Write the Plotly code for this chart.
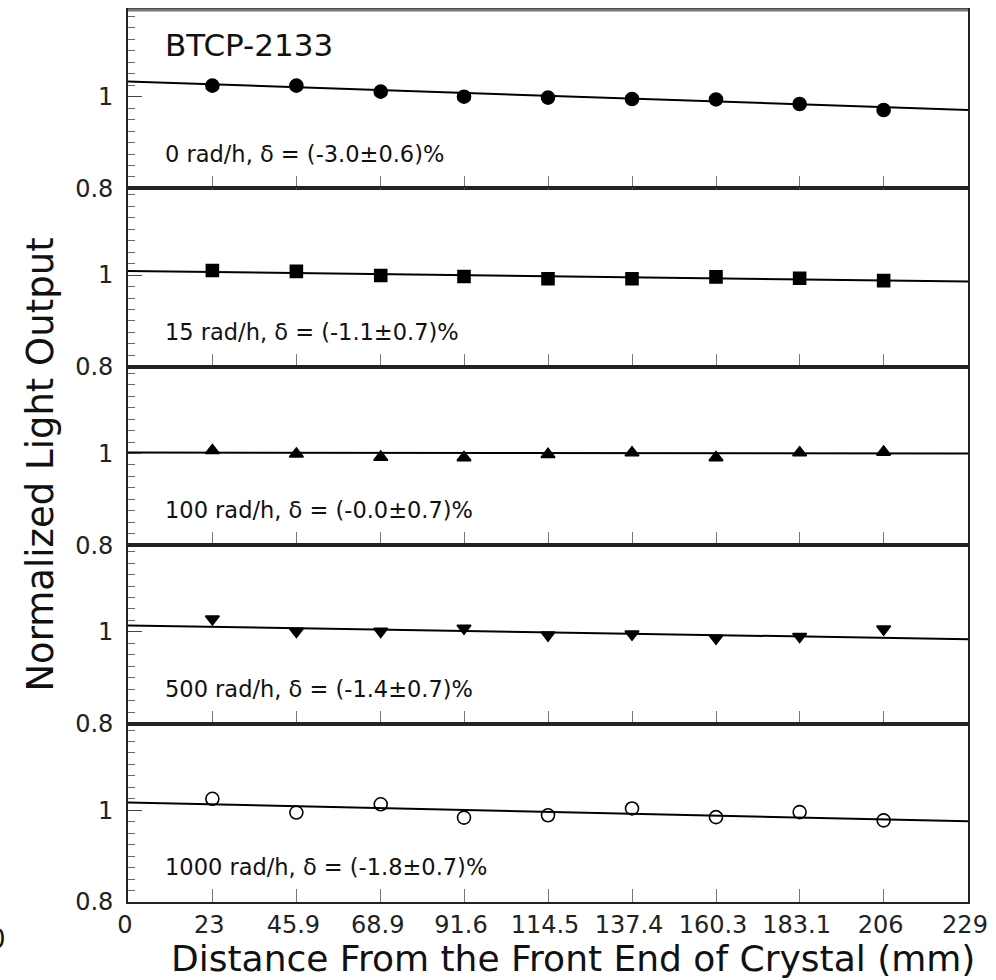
import plotly.graph_objects as go
from plotly.subplots import make_subplots

# ---- data ----
positions = [23, 45.9, 68.9, 91.6, 114.5, 137.4, 160.3, 183.1, 206]
x_tickvals = [0, 23, 45.9, 68.9, 91.6, 114.5, 137.4, 160.3, 183.1, 206, 229]
x_ticktext = ["0", "23", "45.9", "68.9", "91.6", "114.5", "137.4", "160.3", "183.1", "206", "229"]

lo_0rad = [1.024, 1.024, 1.011, 1.000, 0.998, 0.995, 0.994, 0.984, 0.971]
lo_15rad = [1.010, 1.008, 0.999, 0.997, 0.992, 0.992, 0.996, 0.993, 0.988]
lo_100rad = [1.0065, 0.999, 0.992, 0.991, 0.998, 1.0015, 0.991, 1.0015, 1.003]
lo_500rad = [1.028, 1.001, 1.001, 1.008, 0.993, 0.995, 0.986, 0.990, 1.006]
lo_1000rad = [1.025, 0.995, 1.013, 0.984, 0.989, 1.004, 0.985, 0.996, 0.978]

fit_x = [0, 229]
fit_0rad = [1.033, 0.971]
fit_15rad = [1.009, 0.986]
fit_100rad = [1.002, 1.000]
fit_500rad = [1.014, 0.984]
fit_1000rad = [1.017, 0.976]

labels = [
    "0 rad/h, δ = (-3.0±0.6)%",
    "15 rad/h, δ = (-1.1±0.7)%",
    "100 rad/h, δ = (-0.0±0.7)%",
    "500 rad/h, δ = (-1.4±0.7)%",
    "1000 rad/h, δ = (-1.8±0.7)%",
]
series = [lo_0rad, lo_15rad, lo_100rad, lo_500rad, lo_1000rad]
fits = [fit_0rad, fit_15rad, fit_100rad, fit_500rad, fit_1000rad]
symbols = ["circle", "square", "triangle-up", "triangle-down", "circle-open"]
sizes = [13, 12, 12, 12, 13]

y_range = [0.8, 1.189]
FONT = "DejaVu Sans"

fig = make_subplots(rows=5, cols=1, shared_xaxes=True, vertical_spacing=0)

for i in range(5):
    r = i + 1
    fig.add_trace(go.Scatter(x=fit_x, y=fits[i], mode="lines",
                             line=dict(color="black", width=2),
                             showlegend=False, hoverinfo="skip"), row=r, col=1)
    fig.add_trace(go.Scatter(x=positions, y=series[i], mode="markers",
                             marker=dict(symbol=symbols[i], size=sizes[i], color="black",
                                         line=dict(color="black", width=1.6)),
                             showlegend=False), row=r, col=1)
    yref = "y" if r == 1 else f"y{r}"
    xref = "x" if r == 1 else f"x{r}"
    fig.add_annotation(x=9.5, y=0.876, xref=xref, yref=yref, text=labels[i],
                       showarrow=False, xanchor="left", yanchor="middle",
                       font=dict(family=FONT, size=22.5, color="#111"))
    fig.update_yaxes(row=r, col=1, range=y_range, tickmode="array",
                     tickvals=[0.8, 1.0], ticktext=["0.8", "1"],
                     ticks="inside", ticklen=14, tickwidth=1, tickcolor="#444",
                     minor=dict(tickmode="linear", tick0=0.8, dtick=0.025,
                                ticks="inside", ticklen=7, tickwidth=1, tickcolor="#666"),
                     showline=True, linecolor="#222", linewidth=1.6, mirror=True,
                     showgrid=False, zeroline=False, ticklabelstandoff=8,
                     tickfont=dict(family=FONT, size=24, color="#222"))
    fig.update_xaxes(row=r, col=1, range=[0, 229], tickmode="array",
                     tickvals=x_tickvals, ticktext=x_ticktext,
                     ticks="inside", ticklen=13, tickwidth=1, tickcolor="#777",
                     showline=True, linecolor="#222", linewidth=1.6, mirror=True,
                     showgrid=False, zeroline=False,
                     showticklabels=(r == 5), ticklabelshift=-3,
                     tickfont=dict(family=FONT, size=24, color="#222"))

fig.add_annotation(x=9.5, y=1.113, xref="x", yref="y", text="BTCP-2133",
                   showarrow=False, xanchor="left", yanchor="middle",
                   font=dict(family=FONT, size=31, color="#111"))

# axis titles
fig.add_annotation(x=-0.104, y=0.49, xref="paper", yref="paper",
                   text="Normalized Light Output", textangle=-90, showarrow=False,
                   xanchor="center", yanchor="middle",
                   font=dict(family=FONT, size=37, color="#111"))
fig.add_annotation(x=0.53, y=-0.063, xref="paper", yref="paper",
                   text="Distance From the Front End of Crystal (mm)", showarrow=False,
                   xanchor="center", yanchor="middle",
                   font=dict(family=FONT, size=36, color="#111"))
# partial glyph at the left edge of the reference
fig.add_annotation(x=-0.143, y=-0.042, xref="paper", yref="paper",
                   text="0", showarrow=False, xanchor="right", yanchor="middle",
                   font=dict(family=FONT, size=26, color="#111"))

# grey top frame line
fig.add_shape(type="line", xref="paper", yref="paper", x0=0, x1=1, y0=1, y1=1,
              line=dict(color="#777", width=3))

fig.update_layout(width=996, height=980, margin=dict(l=128, r=26, t=8, b=78),
                  paper_bgcolor="white", plot_bgcolor="white", showlegend=False)

fig.write_html("out.html")
